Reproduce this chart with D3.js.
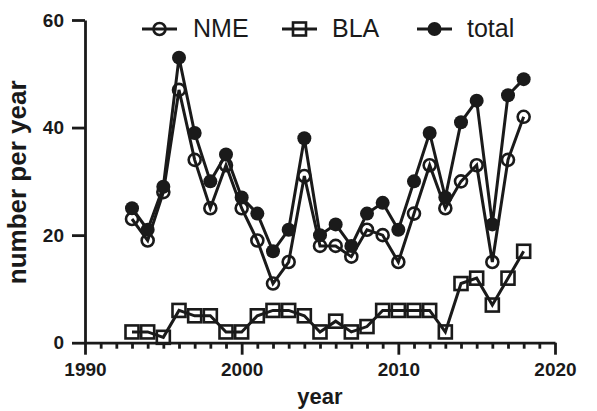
<!DOCTYPE html>
<html>
<head>
<meta charset="utf-8">
<script src="https://cdn.jsdelivr.net/npm/d3@7/dist/d3.min.js"></script>
<style>
  html, body { margin: 0; padding: 0; background: #fff; }
  svg { display: block; font-family: "Liberation Sans", Arial, sans-serif; }
</style>
</head>
<body>
<svg id="chart" width="597" height="411"></svg>
<script>
// Yearly counts, 1993-2018
const years = [1993, 1994, 1995, 1996, 1997, 1998, 1999, 2000, 2001, 2002, 2003, 2004, 2005,
               2006, 2007, 2008, 2009, 2010, 2011, 2012, 2013, 2014, 2015, 2016, 2017, 2018];
const nme   = [23, 19, 28, 47, 34, 25, 33, 25, 19, 11, 15, 31, 18,
               18, 16, 21, 20, 15, 24, 33, 25, 30, 33, 15, 34, 42];
const bla   = [2, 2, 1, 6, 5, 5, 2, 2, 5, 6, 6, 5, 2,
               4, 2, 3, 6, 6, 6, 6, 2, 11, 12, 7, 12, 17];
const total = [25, 21, 29, 53, 39, 30, 35, 27, 24, 17, 21, 38, 20,
               22, 18, 24, 26, 21, 30, 39, 27, 41, 45, 22, 46, 49];

const xTicks = [1990, 2000, 2010, 2020];
const yTicks = [0, 20, 40, 60];
const seriesNames = ["NME", "BLA", "total"];

const svg = d3.select("#chart");
const ink = "#1a1a1a";

const x = d3.scaleLinear().domain([1990, 2020]).range([85, 555]);
const y = d3.scaleLinear().domain([0, 60]).range([342.7, 20]);

// ---- axes ----
const xAxis = svg.append("g").attr("transform", `translate(0,${y(0)})`)
  .call(d3.axisBottom(x).tickValues(xTicks).tickFormat(d3.format("d"))
        .tickSize(12).tickSizeOuter(0).tickPadding(8));
const xMinor = svg.append("g").attr("transform", `translate(0,${y(0)})`)
  .call(d3.axisBottom(x).tickValues(d3.range(1991, 2020).filter(v => v % 10 !== 0))
        .tickSize(6).tickSizeOuter(0).tickFormat(""));
xMinor.select(".domain").remove();

const yAxis = svg.append("g").attr("transform", `translate(${x(1990)},0)`)
  .call(d3.axisLeft(y).tickValues(yTicks).tickSize(13).tickSizeOuter(0).tickPadding(8));

[xAxis, xMinor, yAxis].forEach(g => {
  g.selectAll("path.domain").attr("stroke", ink).attr("stroke-width", 2.8);
  g.selectAll(".tick line").attr("stroke", ink).attr("stroke-width", 2.8);
  g.selectAll(".tick text").attr("fill", ink)
    .style("font-size", "19px").style("font-weight", "bold")
    .style("font-family", "'Liberation Sans', Arial, sans-serif");
});
xAxis.selectAll(".tick text").attr("dy", "0.71em");

// axis titles
svg.append("text")
  .attr("x", 320).attr("y", 404)
  .attr("text-anchor", "middle")
  .style("font-size", "22px").style("font-weight", "bold")
  .attr("fill", ink)
  .text("year");

svg.append("text")
  .attr("transform", `translate(26,${(y(0) + y(60)) / 2 + 1}) rotate(-90)`)
  .attr("text-anchor", "middle")
  .style("font-size", "26px").style("font-weight", "bold")
  .attr("fill", ink)
  .text("number per year");

// ---- series ----
const line = d3.line().x(d => x(d[0])).y(d => y(d[1]));
const pairs = vals => years.map((yr, i) => [yr, vals[i]]);

function drawMarker(g, kind, cx, cy) {
  if (kind === "circle") {
    g.append("circle").attr("cx", cx).attr("cy", cy).attr("r", 6)
      .attr("fill", "none").attr("stroke", ink).attr("stroke-width", 2.6);
  } else if (kind === "square") {
    g.append("rect").attr("x", cx - 6.5).attr("y", cy - 6.5)
      .attr("width", 13).attr("height", 13)
      .attr("fill", "none").attr("stroke", ink).attr("stroke-width", 2.6);
  } else {
    g.append("circle").attr("cx", cx).attr("cy", cy).attr("r", 7)
      .attr("fill", ink);
  }
}

const series = [
  { name: seriesNames[0], vals: nme,   kind: "circle" },
  { name: seriesNames[1], vals: bla,   kind: "square" },
  { name: seriesNames[2], vals: total, kind: "dot" }
];

series.forEach(s => {
  const g = svg.append("g");
  g.append("path").datum(pairs(s.vals)).attr("d", line)
    .attr("fill", "none").attr("stroke", ink).attr("stroke-width", 3)
    .attr("stroke-linejoin", "miter");
  pairs(s.vals).forEach(p => drawMarker(g, s.kind, x(p[0]), y(p[1])));
});

// ---- legend ----
const legendItems = [
  { name: seriesNames[0], kind: "circle", x0: 142, tx: 193 },
  { name: seriesNames[1], kind: "square", x0: 282, tx: 332 },
  { name: seriesNames[2], kind: "dot",    x0: 417, tx: 467 }
];
legendItems.forEach(it => {
  const g = svg.append("g");
  g.append("line").attr("x1", it.x0).attr("x2", it.x0 + 35)
    .attr("y1", 29).attr("y2", 29)
    .attr("stroke", ink).attr("stroke-width", 3);
  drawMarker(g, it.kind, it.x0 + 17.5, 29);
  g.append("text").attr("x", it.tx).attr("y", 37)
    .style("font-size", "25px").attr("fill", ink)
    .text(it.name);
});
</script>
</body>
</html>
